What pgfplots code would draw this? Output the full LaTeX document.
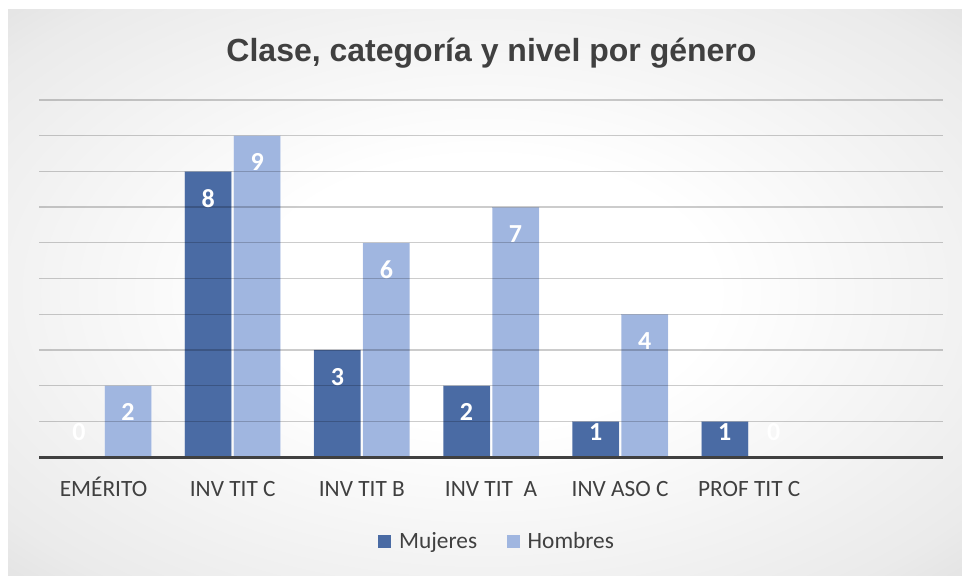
\documentclass[border=0pt]{standalone}
\usepackage{pgfplots}
\usepackage{pgfplotstable}
\pgfplotsset{compat=1.18}
\usepackage{fontspec}
\setmainfont{Carlito}
\newfontfamily\titlefont{Liberation Sans}
\definecolor{muj}{RGB}{74,107,164}
\definecolor{hom}{RGB}{160,182,224}
\definecolor{txt}{RGB}{64,64,64}
\pgfdeclareradialshading{bgshade}{\pgfpoint{0bp}{0bp}}{color(0bp)=(white); color(12bp)=(white); color(32bp)=(black!8); color(50bp)=(black!21)}
\pgfplotstableread{
x m h
0 0 2
1 8 9
2 3 6
3 2 7
4 1 4
5 1 0
}\data
\begin{document}
\begin{tikzpicture}
\fill[white] (0,0) rectangle (721.5pt,431.25pt);
\shade[shading=bgshade] (6pt,0) rectangle (721.5pt,423.75pt);
\node[font=\titlefont\bfseries\fontsize{24}{28}\selectfont, text=txt, anchor=base] at (368.6pt,384.75pt) {Clase, categoría y nivel por género};
\begin{axis}[
  at={(29.25pt,88.5pt)}, anchor=south west,
  scale only axis, width=678pt, height=267.75pt,
  ybar=1.5pt, bar width=35.25pt,
  xmin=-0.5, xmax=6.5, ymin=0, ymax=10,
  xtick={0,...,5},
  xticklabels={EMÉRITO, INV TIT C, INV TIT B, INV TIT\ \ A, INV ASO C, PROF TIT C},
  ytick={0,...,10}, yticklabel=\empty,
  ymajorgrids,
  major grid style={draw=black, draw opacity=0.2, line width=1pt},
  axis on top,
  axis x line*=bottom, axis y line*=left,
  y axis line style={draw=none},
  x axis line style={line width=2.25pt, draw=txt},
  major tick length=0pt,
  xticklabel style={font=\fontsize{17.5}{20}\selectfont, text=txt, anchor=base, yshift=-29.25pt},
  nodes near coords={\pgfmathprintnumber[assume math mode=true]{\pgfplotspointmeta}},
  every node near coord/.append style={font=\bfseries\fontsize{19.5}{20}\selectfont, text=white, anchor=center, yshift={(max(\rawy-0.75,0.7)-\rawy)*26.775pt}},
  legend style={at={(0.507,-0.237)}, anchor=center, draw=none, fill=none, legend columns=2,
    font=\fontsize{17.5}{20}\selectfont, text=txt,
    /tikz/every even column/.append style={column sep=20pt}},
  legend image code/.code={\fill[#1, draw=none] (0pt,-4.875pt) rectangle (9.75pt,4.875pt); \path (13.5pt,0pt);},
]
\addplot[fill=muj, draw=white, draw opacity=0.35, line width=0.75pt, visualization depends on={\thisrow{m} \as \rawy}] table[x=x,y=m]{\data};
\addplot[fill=hom, draw=white, draw opacity=0.35, line width=0.75pt, visualization depends on={\thisrow{h} \as \rawy}] table[x=x,y=h]{\data};
\legend{Mujeres, Hombres}
\end{axis}
\end{tikzpicture}
\end{document}
